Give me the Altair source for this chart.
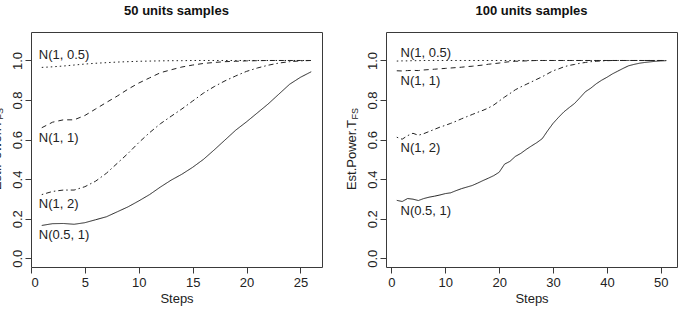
import altair as alt
import pandas as pd

FONT = "Liberation Sans"
INK = "#222222"
FRAME = "#3a3a3a"

series = ["N(1, 0.5)", "N(1, 1)", "N(1, 2)", "N(0.5, 1)"]
dash_patterns = [[1.5, 3], [5, 4], [1.5, 3, 5, 3], [1, 0]]

# ---- 50 units samples: steps 1..26 ----
steps_50 = list(range(1, 27))
p50_n1_05 = [0.965, 0.968, 0.972, 0.977, 0.982, 0.986, 0.989, 0.992, 0.994, 0.996,
             0.997, 0.998, 0.999, 0.999, 1.0, 1.0, 1.0, 1.0, 1.0, 1.0,
             1.0, 1.0, 1.0, 1.0, 1.0, 1.0]
p50_n1_1 = [0.660, 0.688, 0.700, 0.700, 0.722, 0.755, 0.788, 0.820, 0.855, 0.886,
            0.912, 0.938, 0.953, 0.967, 0.977, 0.985, 0.990, 0.994, 0.996, 0.998,
            0.999, 1.0, 1.0, 1.0, 1.0, 1.0]
p50_n1_2 = [0.322, 0.338, 0.345, 0.345, 0.362, 0.390, 0.430, 0.480, 0.530, 0.585,
            0.635, 0.680, 0.718, 0.755, 0.795, 0.835, 0.868, 0.897, 0.922, 0.945,
            0.962, 0.976, 0.987, 0.994, 0.998, 1.0]
p50_n05_1 = [0.166, 0.175, 0.176, 0.172, 0.180, 0.195, 0.210, 0.235, 0.260, 0.290,
             0.322, 0.360, 0.395, 0.425, 0.460, 0.500, 0.548, 0.598, 0.648, 0.690,
             0.735, 0.780, 0.830, 0.880, 0.915, 0.943]

# ---- 100 units samples: steps 1..51 ----
steps_100 = list(range(1, 52))
p100_n1_05 = [0.997, 0.998, 0.998, 0.999, 0.999] + [1.0] * 46
p100_n1_1 = [0.948, 0.947, 0.949, 0.950, 0.949, 0.952, 0.954, 0.956, 0.958, 0.960,
             0.962, 0.964, 0.966, 0.969, 0.971, 0.974, 0.977, 0.981, 0.984, 0.987,
             0.991, 0.994, 0.996, 0.997, 0.998, 0.999] + [1.0] * 25
p100_n1_2 = [0.612, 0.602, 0.620, 0.632, 0.622, 0.630, 0.641, 0.652, 0.663, 0.672,
             0.682, 0.693, 0.705, 0.716, 0.727, 0.738, 0.748, 0.760, 0.775, 0.795,
             0.815, 0.833, 0.852, 0.866, 0.879, 0.892, 0.905, 0.918, 0.933, 0.948,
             0.957, 0.968, 0.975, 0.980, 0.986, 0.990, 0.994, 0.996, 0.998, 0.999] + [1.0] * 11
p100_n05_1 = [0.293, 0.287, 0.302, 0.299, 0.292, 0.302, 0.309, 0.314, 0.320, 0.327,
              0.331, 0.342, 0.352, 0.360, 0.368, 0.380, 0.393, 0.405, 0.418, 0.435,
              0.476, 0.490, 0.515, 0.530, 0.550, 0.568, 0.585, 0.605, 0.645, 0.682,
              0.712, 0.740, 0.762, 0.783, 0.812, 0.842, 0.860, 0.882, 0.900, 0.915,
              0.932, 0.946, 0.960, 0.973, 0.980, 0.986, 0.990, 0.993, 0.996, 0.998, 0.999]

# where each curve's name is written (data units)
label_step_50 = 0.72
label_power_50 = [1.030, 0.606, 0.272, 0.117]
label_step_100 = 1.7
label_power_100 = [1.040, 0.895, 0.560, 0.240]

y_ticks = [0.0, 0.2, 0.4, 0.6, 0.8, 1.0]
y_domain = [-0.044, 1.144]


def panel(title, steps, curves, x_domain, x_ticks, lab_step, lab_power):
    rows = []
    for name, vals in zip(series, curves):
        for s, v in zip(steps, vals):
            rows.append({"step": s, "power": v, "dist": name})
    df = pd.DataFrame(rows)
    labels = pd.DataFrame({"step": [lab_step] * 4, "power": lab_power, "dist": series})

    x_enc = alt.X("step:Q", scale=alt.Scale(domain=x_domain, nice=False, zero=False),
                  axis=alt.Axis(values=x_ticks, format="d", title="Steps"))
    y_enc = alt.Y("power:Q", scale=alt.Scale(domain=y_domain, nice=False, zero=False),
                  axis=alt.Axis(values=y_ticks, format=".1f", title=None))

    lines = alt.Chart(df).mark_line(color=INK, strokeWidth=1).encode(
        x=x_enc,
        y=y_enc,
        strokeDash=alt.StrokeDash("dist:N", scale=alt.Scale(domain=series, range=dash_patterns),
                                  legend=None),
    )
    names = alt.Chart(labels).mark_text(
        align="left", baseline="middle", font=FONT, fontSize=13, color=INK
    ).encode(x=x_enc, y=y_enc, text="dist:N")

    # y-axis title with subscript
    ytitle = alt.Chart(pd.DataFrame({"t": ["Est.Power.T"]})).mark_text(
        angle=270, align="right", baseline="middle", font=FONT, fontSize=13, color=INK
    ).encode(x=alt.value(-34), y=alt.value(88), text="t:N")
    ysub = alt.Chart(pd.DataFrame({"t": ["FS"]})).mark_text(
        angle=270, align="left", baseline="middle", font=FONT, fontSize=9, color=INK, dy=3, dx=0.5
    ).encode(x=alt.value(-34), y=alt.value(88), text="t:N")

    return alt.layer(lines, names, ytitle, ysub).properties(
        width=291, height=235, title=title
    )


left = panel("50 units samples", steps_50, [p50_n1_05, p50_n1_1, p50_n1_2, p50_n05_1],
             [0, 27], [0, 5, 10, 15, 20, 25], label_step_50, label_power_50)
right = panel("100 units samples", steps_100, [p100_n1_05, p100_n1_1, p100_n1_2, p100_n05_1],
              [-1, 53], [0, 10, 20, 30, 40, 50], label_step_100, label_power_100)

chart = alt.hconcat(left, right, spacing=64, bounds="flush").properties(
    padding={"left": -10, "top": 4, "right": 5, "bottom": 5}
).configure_view(
    stroke=FRAME, strokeWidth=1
).configure_axis(
    domain=False, grid=False, ticks=True, tickColor=FRAME, tickSize=6,
    labelFont=FONT, labelFontSize=13, labelColor=INK,
    titleFont=FONT, titleFontSize=13, titleFontWeight="normal", titleColor=INK,
).configure_axisX(
    labelPadding=3.7, titlePadding=2.6
).configure_axisY(
    labelAngle=270, labelAlign="center", labelBaseline="bottom", labelPadding=1
).configure_title(
    font=FONT, fontSize=13, fontWeight="bold", color="#111111", anchor="middle", offset=14
)

chart.save("out.html", embed_options={"renderer": "svg", "actions": False})
